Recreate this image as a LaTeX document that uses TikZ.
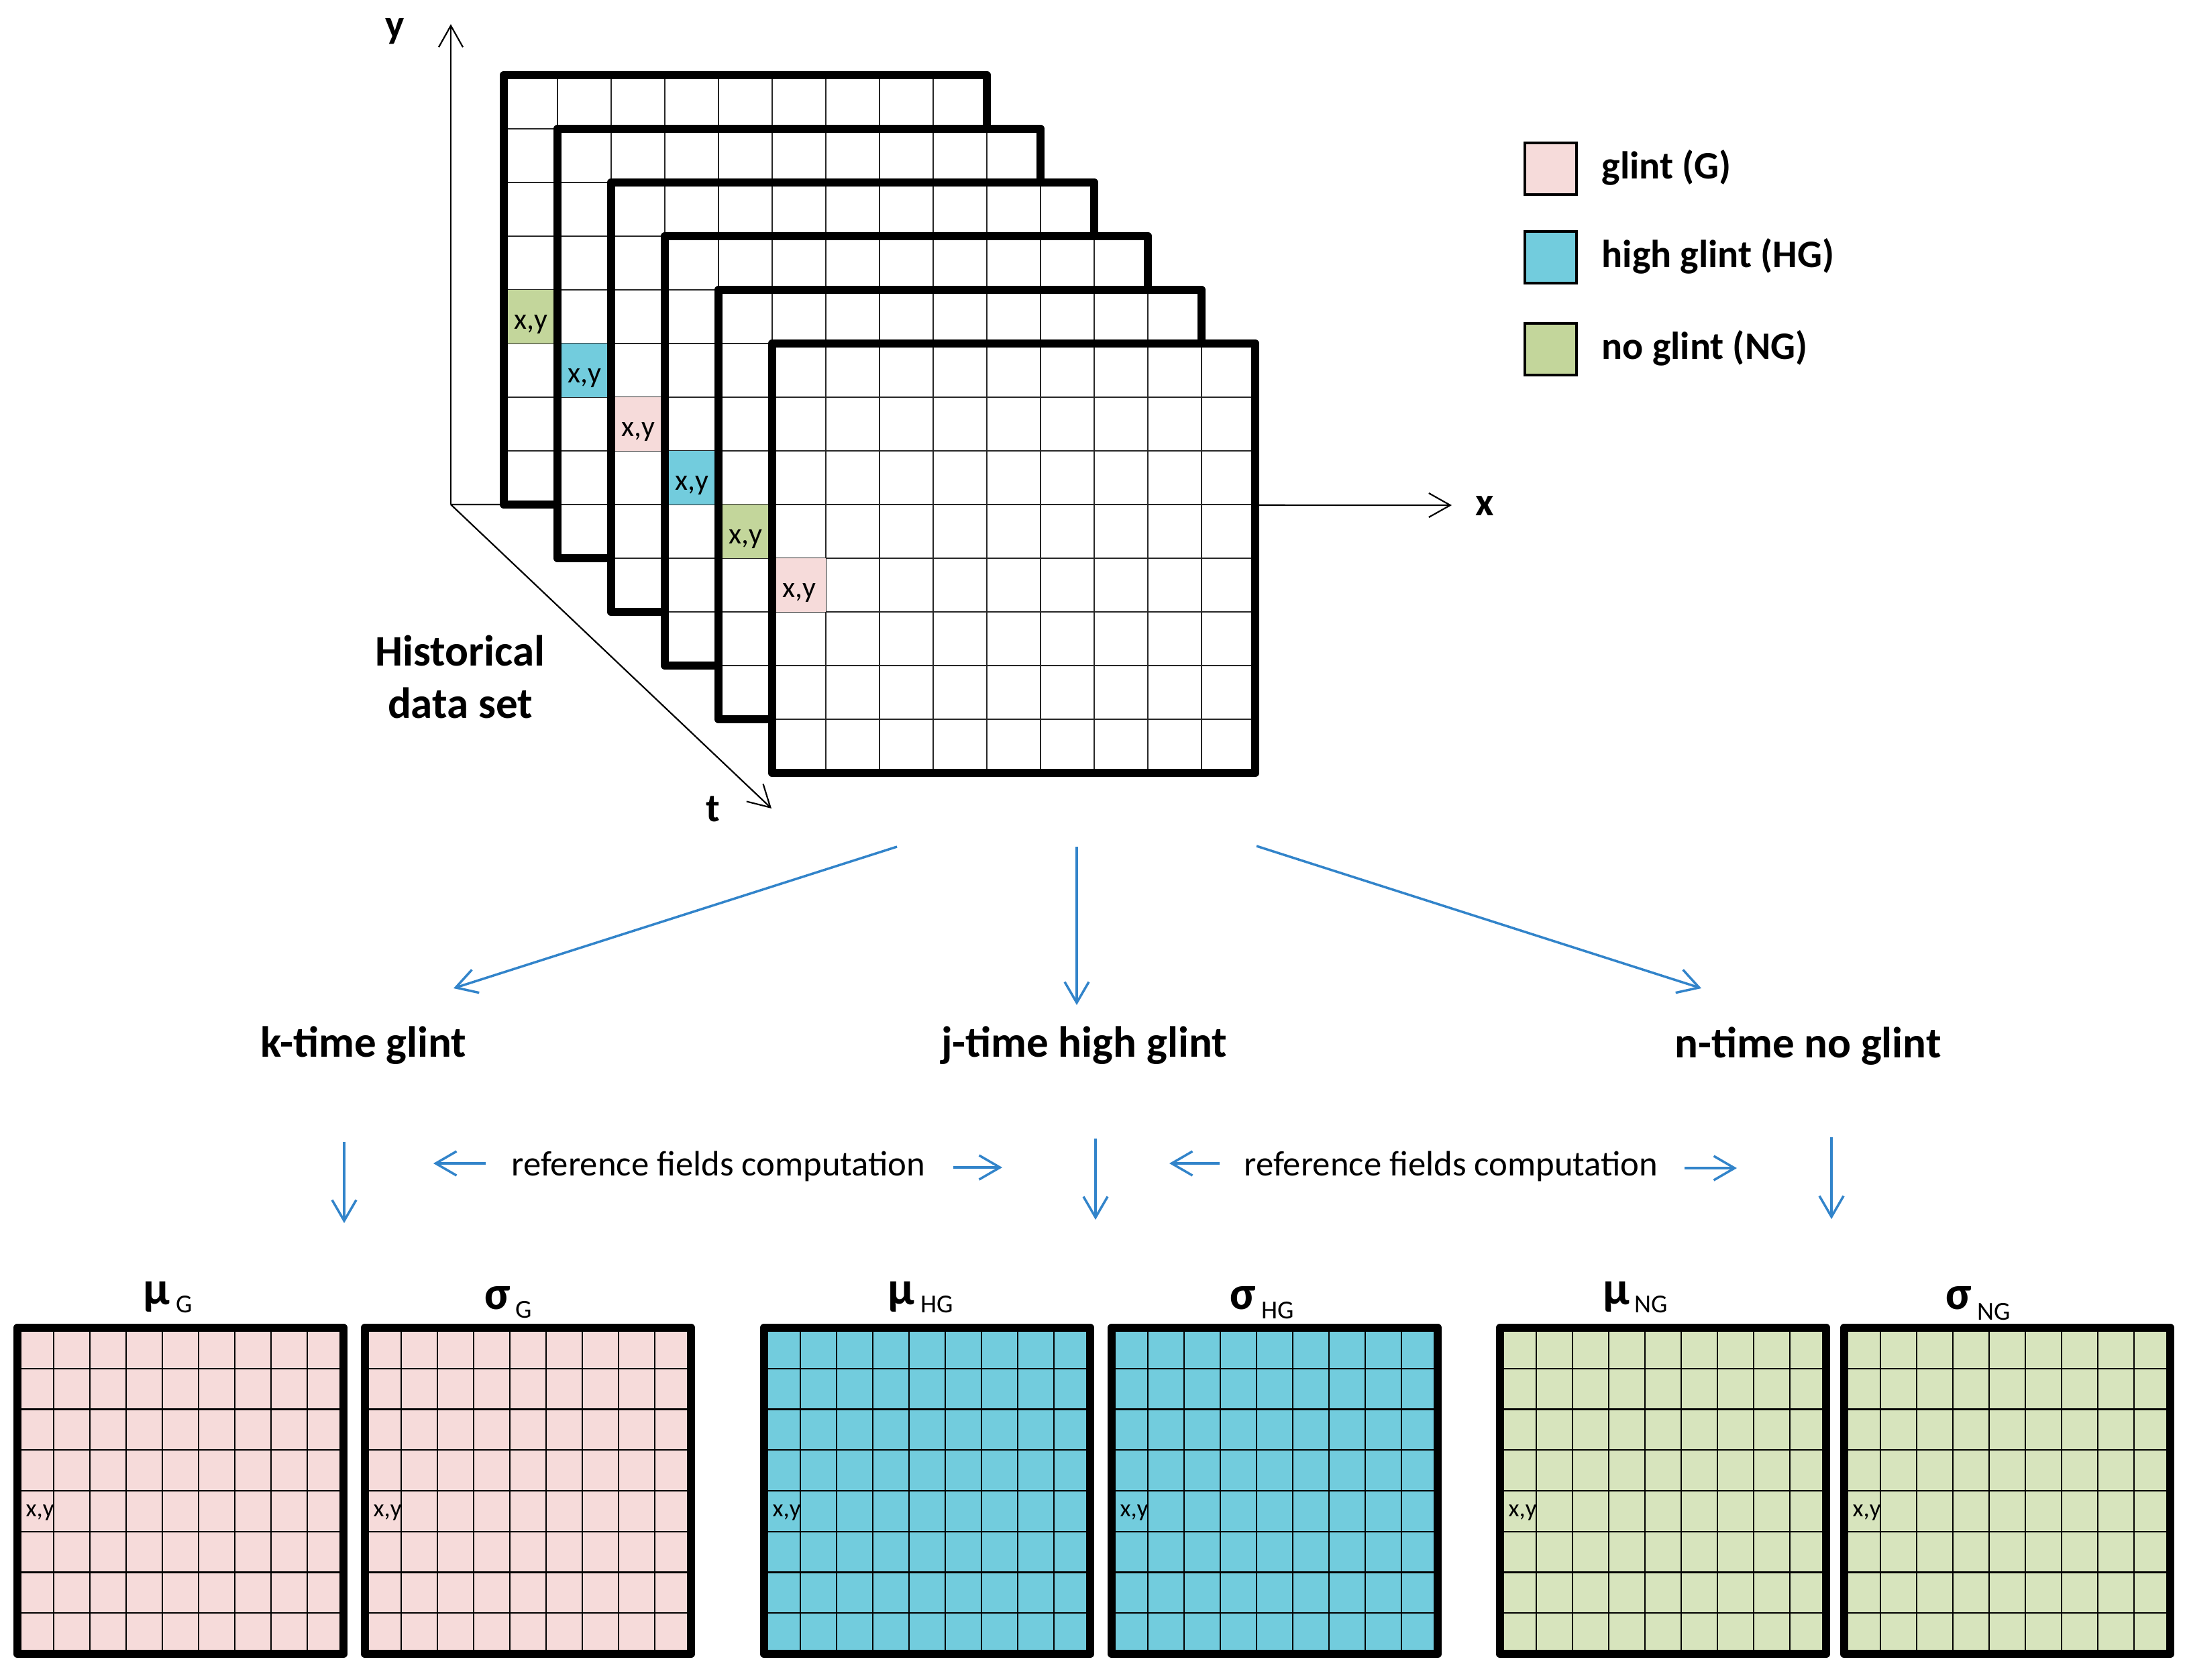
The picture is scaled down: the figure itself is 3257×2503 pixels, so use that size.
\documentclass[tikz,border=0pt]{standalone}
\usepackage{fontspec}
\setmainfont{Carlito}
\usetikzlibrary{arrows.meta}
\definecolor{gpink}{HTML}{F6DBDA}
\definecolor{gblue}{HTML}{72CCDD}
\definecolor{ggreen}{HTML}{C3D69B}
\definecolor{glgreen}{HTML}{D7E4BD}
\definecolor{arrblue}{HTML}{3284CA}
\newcommand{\fsz}[1]{\fontsize{#1}{#1}\selectfont}
\tikzset{
  framebox/.style={line width=1.25mm, line join=round},
  gridln/.style={line width=0.2mm, draw=black!85},
  gridlnb/.style={line width=0.22mm, draw=black},
  axisarrow/.style={line width=0.22mm, -{Straight Barb[length=3.2mm,width=3.6mm]}},
  bluearrow/.style={draw=arrblue, line width=0.35mm, -{Straight Barb[length=3.1mm,width=3.6mm]}},
  biglabel/.style={font=\fsz{18.5pt}\bfseries, inner sep=0pt},
  axislabel/.style={font=\fsz{17pt}\bfseries, inner sep=0pt},
  leglabel/.style={font=\fsz{16.5pt}\bfseries, inner sep=0pt, anchor=base west},
  legbox/.style={draw, line width=0.4mm, minimum size=7.7mm, inner sep=0pt},
  cellxy/.style={font=\fsz{12.5pt}, inner sep=0pt, anchor=base},
  smallxy/.style={font=\fsz{10.5pt}, inner sep=0pt, anchor=west},
  reflabel/.style={font=\fsz{15pt}, inner sep=0pt, anchor=base},
  greek/.style={font=\fsz{20pt}\bfseries, inner sep=0pt, anchor=base west},
  subl/.style={font=\fsz{11pt}, inner sep=0pt, anchor=base west},
}
\begin{document}
\begin{tikzpicture}[x=0.1mm,y=-0.1mm]
\useasboundingbox (0,0) rectangle (3257,2503);

% axes
\coordinate (O) at (672,752);
\coordinate (ytip) at (672,36);
\coordinate (xtip) at (2164,753);
\coordinate (ttip) at (1150,1205);
\draw[axisarrow] (O) -- (xtip);
\draw[axisarrow] (O) -- (ytip);
\draw[axisarrow] (O) -- (ttip);
\node[axislabel, anchor=base] (ylab) at (589,56) {y};
\node[axislabel] (xlab) at (2213,754) {x};
\node[axislabel, anchor=base] (tlab) at (1063,1224) {t};

% stacked frames
\foreach \i/\col in {0/ggreen,1/gblue,2/gpink,3/gblue,4/ggreen,5/gpink}{
  \begin{scope}[shift={(751+80*\i,112+80*\i)}]
    \fill[white] (0,0) rectangle (720,640);
    \foreach \k in {1,...,8} \draw[gridln] (80*\k,0) -- (80*\k,640);
    \foreach \k in {1,...,7} \draw[gridln] (0,80*\k) -- (720,80*\k);
    \fill[\col] (0,320) rectangle (80,400);
    \node[cellxy] (xy\i) at (40,378) {x,y};
    \draw[framebox] (0,0) rectangle (720,640);
  \end{scope}
}

\node[biglabel, anchor=base] (hist1) at (686,992) {Historical};
\node[biglabel, anchor=base] (hist2) at (686,1070) {data set};

% legend
\node[legbox, fill=gpink] (legG) at (2311,251) {};
\node[legbox, fill=gblue] (legHG) at (2311,383) {};
\node[legbox, fill=ggreen] (legNG) at (2311,520) {};
\node[leglabel] (legGt) at (2387,266) {glint (G)};
\node[leglabel] (legHGt) at (2387,398) {high glint (HG)};
\node[leglabel] (legNGt) at (2387,535) {no glint (NG)};

% category labels
\node[biglabel, anchor=base] (kglint) at (542,1575) {k-time glint};
\node[biglabel, anchor=base] (jglint) at (1616,1575) {j-time high glint};
\node[biglabel, anchor=base] (nglint) at (2695,1576) {n-time no glint};

% blue arrows from data set
\coordinate (s1) at (1337,1262);
\coordinate (s2) at (1605,1262);
\coordinate (s3) at (1873,1261);
\coordinate (e1) at (676,1473);
\coordinate (e2) at (1605,1498);
\coordinate (e3) at (2536,1473);
\draw[bluearrow] (s1) -- (e1);
\draw[bluearrow] (s2) -- (e2);
\draw[bluearrow] (s3) -- (e3);

% down arrows
\coordinate (d1s) at (513,1702);
\coordinate (d1e) at (513,1823);
\coordinate (d2s) at (1633,1697);
\coordinate (d2e) at (1633,1818);
\coordinate (d3s) at (2730,1695);
\coordinate (d3e) at (2730,1817);
\draw[bluearrow] (d1s) -- (d1e);
\draw[bluearrow] (d2s) -- (d2e);
\draw[bluearrow] (d3s) -- (d3e);

% reference fields computation
\node[reflabel] (ref1) at (1071,1752) {reference fields computation};
\node[reflabel] (ref2) at (2163,1752) {reference fields computation};
\coordinate (l1s) at (724,1734);
\coordinate (l1e) at (646,1734);
\coordinate (r1s) at (1421,1740);
\coordinate (r1e) at (1494,1740);
\coordinate (l2s) at (1818,1734);
\coordinate (l2e) at (1743,1734);
\coordinate (r2s) at (2511,1741);
\coordinate (r2e) at (2589,1741);
\draw[bluearrow] (l1s) -- (l1e);
\draw[bluearrow] (r1s) -- (r1e);
\draw[bluearrow] (l2s) -- (l2e);
\draw[bluearrow] (r2s) -- (r2e);

% reference field grids
\foreach \n/\x/\col in {mg/26/gpink, sg/544/gpink, mhg/1139/gblue, shg/1657/gblue, mng/2236/glgreen, sng/2749/glgreen}{
  \begin{scope}[shift={(\x,1979)}]
    \fill[\col] (0,0) rectangle (486,486);
    \foreach \k in {1,...,8} \draw[gridlnb] (54*\k,0) -- (54*\k,486);
    \foreach \k in {1,...,7} \draw[gridlnb] (0,60.75*\k) -- (486,60.75*\k);
    \node[smallxy] (\n xy) at (12,276) {x,y};
    \draw[framebox] (0,0) rectangle (486,486);
  \end{scope}
}

% titles
\node[greek] (muG) at (213,1944) {μ};
\node[subl] (muGs) at (262,1956) {G};
\node[greek] (sgG) at (722,1951) {σ};
\node[subl] (sgGs) at (768,1964) {G};
\node[greek] (muHG) at (1323,1944) {μ};
\node[subl] (muHGs) at (1372,1956) {HG};
\node[greek] (sgHG) at (1833,1951) {σ};
\node[subl] (sgHGs) at (1880,1965) {HG};
\node[greek] (muNG) at (2389,1944) {μ};
\node[subl] (muNGs) at (2436,1956) {NG};
\node[greek] (sgNG) at (2900,1951) {σ};
\node[subl] (sgNGs) at (2947,1967) {NG};
\end{tikzpicture}
\end{document}
